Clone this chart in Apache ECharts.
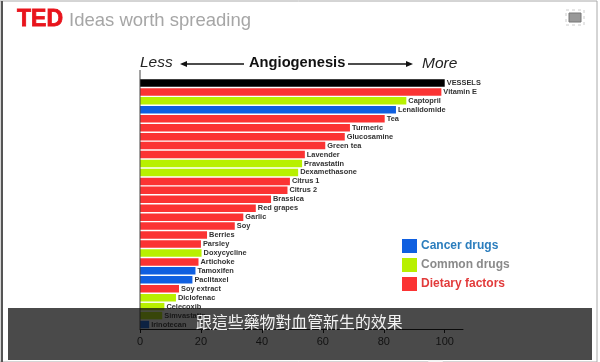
<!DOCTYPE html>
<html>
<head>
<meta charset="utf-8">
<style>html,body{margin:0;padding:0;background:#fff}#main{width:600px;height:362px}</style>
<script src="https://cdn.jsdelivr.net/npm/echarts@6/dist/echarts.min.js"></script>
</head>
<body>
<div id="main"></div>
<script>
// 数据
var categories = ['VESSELS','Vitamin E','Captopril','Lenalidomide','Tea','Turmeric','Glucosamine','Green tea','Lavender','Pravastatin','Dexamethasone','Citrus 1','Citrus 2','Brassica','Red grapes','Garlic','Soy','Berries','Parsley','Doxycycline','Artichoke','Tamoxifen','Paclitaxel','Soy extract','Diclofenac','Celecoxib','Simvastatin','Irinotecan'];
var values = [100,98.9,87.4,84,80.3,68.9,67.2,60.8,54.1,53.2,51.9,49.2,48.4,43,38,33.9,31.1,22,20,20.2,19.2,18.2,17.2,12.8,11.8,8,7.3,3];
var groups = ['Vessels','Dietary factors','Common drugs','Cancer drugs','Dietary factors','Dietary factors','Dietary factors','Dietary factors','Dietary factors','Common drugs','Common drugs','Dietary factors','Dietary factors','Dietary factors','Dietary factors','Dietary factors','Dietary factors','Dietary factors','Dietary factors','Common drugs','Dietary factors','Cancer drugs','Cancer drugs','Dietary factors','Common drugs','Common drugs','Common drugs','Cancer drugs'];
var tickValues = [0,20,40,60,80,100];
var groupColors = {'Vessels':'#000000','Cancer drugs':'#0f5fe0','Common drugs':'#b8f000','Dietary factors':'#fb3333'};
var legendColors = {'Cancer drugs':'#2b7dbd','Common drugs':'#8a8a8a','Dietary factors':'#e23b3b'};
var caption = '跟這些藥物對血管新生的效果';

var myChart = echarts.init(document.getElementById('main'));

var seriesList = Object.keys(groupColors).map(function (g) {
  return {
    name: g,
    type: 'bar',
    barWidth: 7.5,
    barGap: '-100%',
    silent: true,
    itemStyle: {color: groupColors[g]},
    label: {
      show: true,
      position: 'right',
      distance: 2,
      formatter: '{b}',
      fontFamily: 'Liberation Sans',
      fontWeight: 'bold',
      fontSize: 7.4,
      color: '#333'
    },
    data: values.map(function (v, i) { return groups[i] === g ? v : null; })
  };
});

function arrowHead(x, y, dir) {
  return {type: 'polygon', shape: {points: [[x, y], [x - dir * 7, y - 3], [x - dir * 7, y + 3]]}, style: {fill: '#111'}, z: 5};
}

var option = {
  animation: false,
  backgroundColor: '#fff',
  grid: {left: 140, top: 78.5, width: 323, height: 250.5},
  legend: {
    orient: 'vertical',
    left: 397,
    top: 234,
    itemWidth: 15,
    itemHeight: 14,
    itemGap: 5,
    selectedMode: false,
    icon: 'rect',
    textStyle: {fontFamily: 'Liberation Sans', fontWeight: 'bold', fontSize: 12, padding: [0, 0, 0, -1]},
    data: Object.keys(legendColors).map(function (g) {
      return {name: g, textStyle: {color: legendColors[g]}};
    })
  },
  xAxis: {
    type: 'value',
    min: 0,
    max: 106,
    splitLine: {show: false},
    axisLine: {show: true, lineStyle: {color: '#000', width: 1}},
    axisTick: {show: true, length: 4, inside: false, lineStyle: {color: '#000'}, customValues: tickValues},
    axisLabel: {color: '#222', fontFamily: 'Liberation Sans', fontSize: 11, margin: 7, customValues: tickValues}
  },
  yAxis: {
    type: 'category',
    inverse: true,
    data: categories,
    axisLine: {show: false},
    axisTick: {show: false},
    axisLabel: {show: false}
  },
  series: seriesList,
  graphic: [
    // 外框
    {type: 'rect', shape: {x: 0, y: 1, width: 597, height: 361}, style: {fill: 'none', stroke: '#aaa', lineWidth: 1}, z: 1},
    {type: 'line', shape: {x1: 2, y1: 1, x2: 2, y2: 362}, style: {stroke: '#555', lineWidth: 2}, z: 1},
    // 顶部标题
    {type: 'text', x: 17, y: 8, style: {text: 'TED', fill: '#e8141c', font: '900 23px "Liberation Sans"', stroke: '#e8141c', lineWidth: 0.8}, z: 5},
    {type: 'text', x: 69, y: 11, style: {text: 'Ideas worth spreading', fill: '#a6a6a6', font: '18.5px "Liberation Sans"'}, z: 5},
    // 全屏图标
    {type: 'rect', shape: {x: 569, y: 13, width: 12, height: 9}, style: {fill: '#999', stroke: '#777', lineWidth: 1}, z: 5},
    {type: 'rect', shape: {x: 566, y: 10, width: 18, height: 15}, style: {fill: 'none', stroke: '#ccc', lineWidth: 1, lineDash: [3, 3]}, z: 5},
    // 图内标题
    {type: 'line', shape: {x1: 140, y1: 70, x2: 140, y2: 329}, style: {stroke: '#444', lineWidth: 1}, z: 5},
    {type: 'text', x: 140, y: 55, style: {text: 'Less', fill: '#222', font: 'italic 15.5px "Liberation Sans"'}, z: 5},
    {type: 'text', x: 249, y: 55, style: {text: 'Angiogenesis', fill: '#111', font: 'bold 14.7px "Liberation Sans"'}, z: 5},
    {type: 'text', x: 422, y: 56, style: {text: 'More', fill: '#222', font: 'italic 15.5px "Liberation Sans"'}, z: 5},
    {type: 'line', shape: {x1: 185, y1: 64, x2: 244, y2: 64}, style: {stroke: '#111', lineWidth: 1.5}, z: 5},
    arrowHead(180, 64, -1),
    {type: 'line', shape: {x1: 348, y1: 64, x2: 408, y2: 64}, style: {stroke: '#111', lineWidth: 1.5}, z: 5},
    arrowHead(413, 64, 1),
    // 字幕
    {type: 'rect', shape: {x: 8, y: 308, width: 584, height: 52}, style: {fill: 'rgba(13,13,13,0.75)'}, z: 20},
    {type: 'text', x: 196, y: 314, style: {text: caption, fill: '#f2f2f2', font: '15.9px "Noto Sans CJK TC"'}, z: 21},
    {type: 'rect', shape: {x: 428, y: 360, width: 15, height: 2, r: 1}, style: {fill: '#f4f4f4'}, z: 21}
  ]
};

myChart.setOption(option);
</script>
</body>
</html>
